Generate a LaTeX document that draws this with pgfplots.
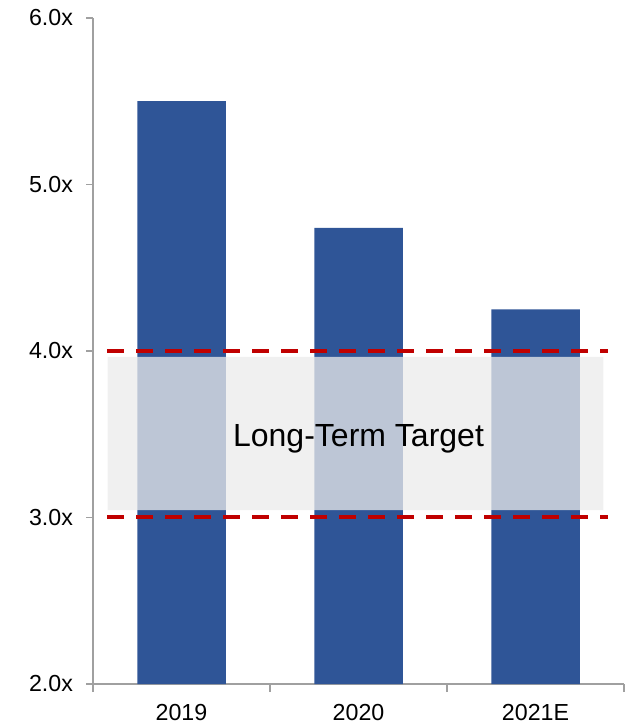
\documentclass[border=0pt]{standalone}
\usepackage{pgfplots}
\pgfplotsset{compat=1.18}
\usepackage{fontspec}
\setmainfont{Liberation Sans}
\definecolor{barblue}{RGB}{47,85,151}
\definecolor{bandgray}{RGB}{235,235,235}
\definecolor{targetred}{RGB}{192,0,0}
\definecolor{axisgray}{RGB}{160,160,160}

\begin{document}
\begin{tikzpicture}
  \begin{axis}[
      scale only axis,
      width=265.5pt, height=333pt,
      xmin=-0.5, xmax=2.5,
      ymin=2, ymax=6,
      axis x line*=bottom,
      axis y line*=left,
      axis line style={-, draw=axisgray, line width=0.75pt},
      xtick={0,1,2},
      xticklabels={2019,2020,2021E},
      xtick style={draw=none},
      minor xtick={-0.5,0.5,1.5,2.5},
      minor x tick style={draw=axisgray, line width=0.75pt},
      minor tick length=4pt,
      ytick={2,3,4,5,6},
      yticklabels={2.0x,3.0x,4.0x,5.0x,6.0x},
      y tick style={draw=axisgray, line width=0.75pt},
      major tick length=3.5pt,
      tick align=outside,
      ticklabel style={font=\fontsize{11.6}{14}\selectfont, text=black},
      xticklabel style={yshift=-3pt},
      yticklabel style={xshift=-3pt},
      clip=true,
    ]
    % bars
    \addplot[ybar, bar width=0.5, bar shift=0pt, fill=barblue, draw=none]
      coordinates {(0,5.50) (1,4.74) (2,4.25)};
    % long-term target band
    \addplot[draw=none, fill=bandgray, fill opacity=0.755]
      coordinates {(-0.418,3.045) (2.384,3.045) (2.384,3.964) (-0.418,3.964) (-0.418,3.045)};
    % target range lines
    \addplot[targetred, line width=2pt, dash pattern=on 8.5pt off 6pt, mark=none]
      coordinates {(-0.42,4.0) (2.41,4.0)};
    \addplot[targetred, line width=2pt, dash pattern=on 8.5pt off 6pt, mark=none]
      coordinates {(-0.42,3.0) (2.41,3.0)};
    \node[font=\fontsize{16}{19}\selectfont] at (axis cs:1,3.47) {Long-Term Target};
    \coordinate (A) at (rel axis cs:0,0);
    \coordinate (B) at (rel axis cs:1,1);
  \end{axis}
  \pgfresetboundingbox
  \path[use as bounding box] ([xshift=-46.5pt,yshift=-20pt]A) rectangle ([xshift=4.5pt,yshift=9pt]B);
\end{tikzpicture}
\end{document}
